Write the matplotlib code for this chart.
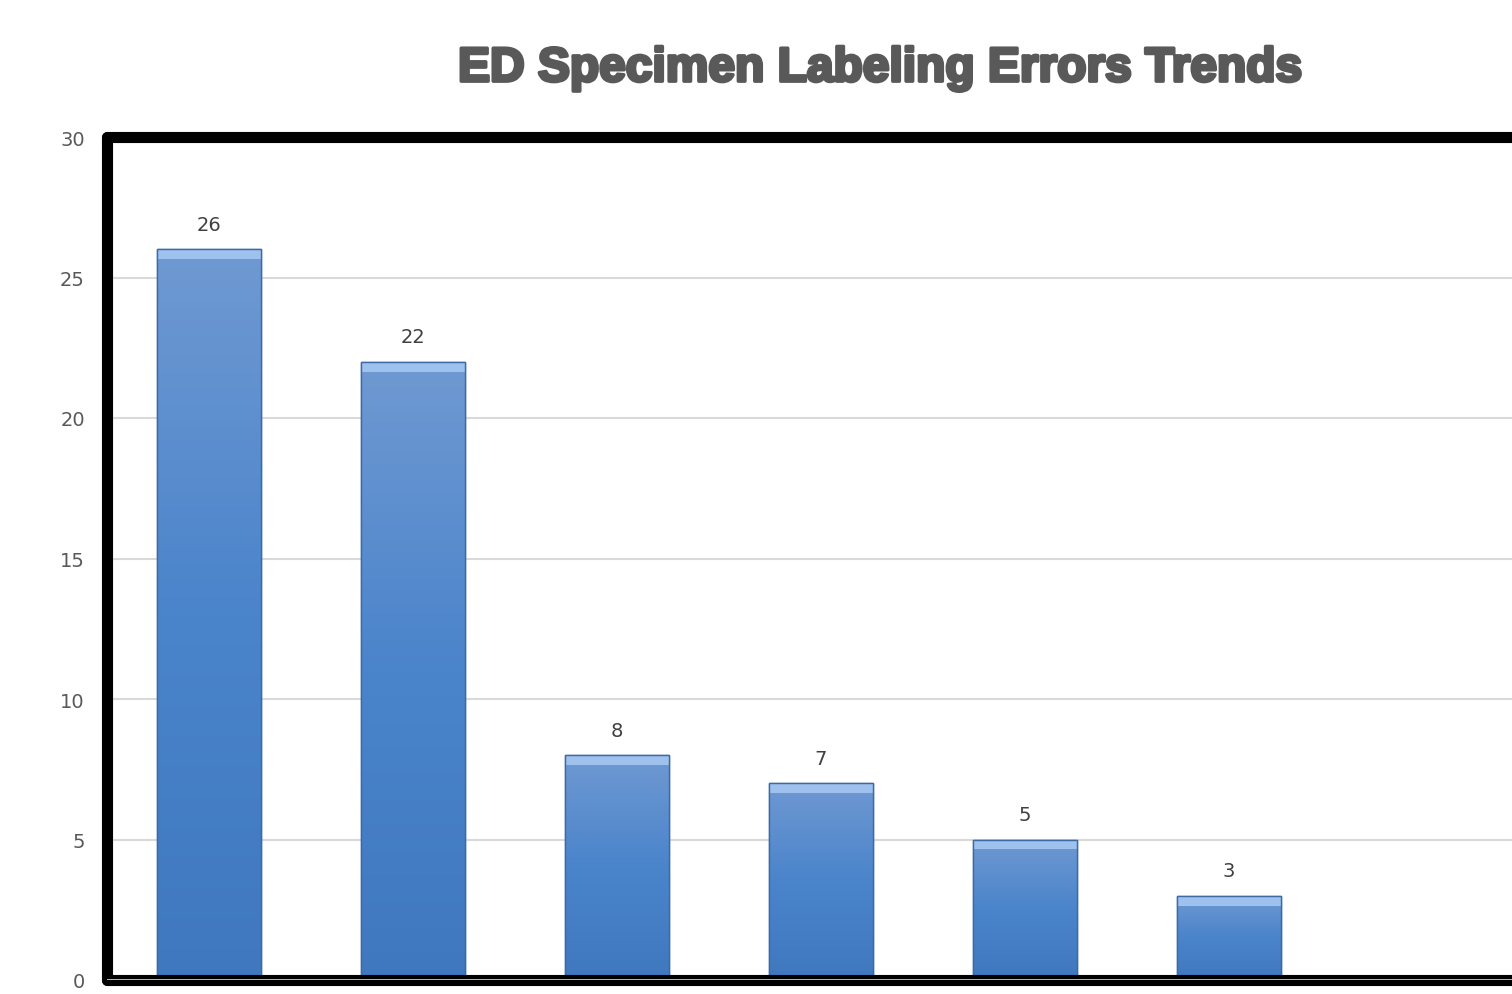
import numpy as np
import matplotlib
matplotlib.use("Agg")
import matplotlib.pyplot as plt
import matplotlib.patheffects as pe
from matplotlib.colors import LinearSegmentedColormap

# data (last two categories are empty / cut off)
categories = ["1", "2", "3", "4", "5", "6", "7", "8"]
values = [26, 22, 8, 7, 5, 3, 0, 0]
labels = ["26", "22", "8", "7", "5", "3", "", ""]
yticks = [0, 5, 10, 15, 20, 25, 30]

fig = plt.figure(figsize=(15.12, 9.95), dpi=100)
# the plot area runs past the right edge of the picture, as in the reference
ax = fig.add_axes([107 / 1512, 14 / 995, 1632 / 1512, 843 / 995])

x = np.arange(len(categories))
bars = ax.bar(x, values, width=0.505, color="#4a80c4", edgecolor="#3c6aa6",
              linewidth=1.0, zorder=3)

# soft vertical gradient + bevelled top on every bar
cmap = LinearSegmentedColormap.from_list("bev", ["#3f78bf", "#4a84cb", "#6f99d2"])
grad = np.linspace(0, 1, 256).reshape(-1, 1)
for b, v in zip(bars, values):
    if v <= 0:
        continue
    x0, w = b.get_x(), b.get_width()
    im = ax.imshow(grad, cmap=cmap, aspect="auto", origin="lower",
                   extent=[x0, x0 + w, 0, v], zorder=3.5)
    im.set_clip_path(b)
    ax.bar(b.get_x() + w / 2, 0.35, width=w, bottom=v - 0.35, color="#9ec1ee",
           edgecolor="none", zorder=4)
    ax.bar(b.get_x() + w / 2, v, width=w, color="none", edgecolor="#3c6aa6",
           linewidth=1.0, zorder=4.5)

for xi, v, lab in zip(x, values, labels):
    if lab:
        ax.text(xi, v + 0.55, lab, ha="center", va="bottom", fontsize=14,
                color="#404040")

ax.set_xlim(-0.5, len(categories) - 0.5)
ax.set_ylim(0, 30)
ax.set_yticks(yticks)
ax.set_xticks([])
ax.yaxis.grid(True, color="#d9d9d9", linewidth=1.5, zorder=0)
ax.set_axisbelow(True)
ax.tick_params(axis="y", length=0, pad=16, labelsize=14, labelcolor="#595959")

for s in ax.spines.values():
    s.set_linewidth(8)
    s.set_color("black")
    s.set_capstyle("round")
    s.set_joinstyle("round")
    s.set_zorder(5)

# thin grey category axis sitting inside the thick frame
ax.axhline(0, color="#c8c8c8", linewidth=2.0, zorder=6)

fig.text(0.582, 0.930, "ED Specimen Labeling Errors Trends", ha="center",
         va="center", fontsize=34.5, fontweight="heavy", color="#595959",
         family=["Liberation Sans", "DejaVu Sans"],
         path_effects=[pe.withStroke(linewidth=2.5, foreground="#595959")])

fig.savefig("out.png", dpi=100)
